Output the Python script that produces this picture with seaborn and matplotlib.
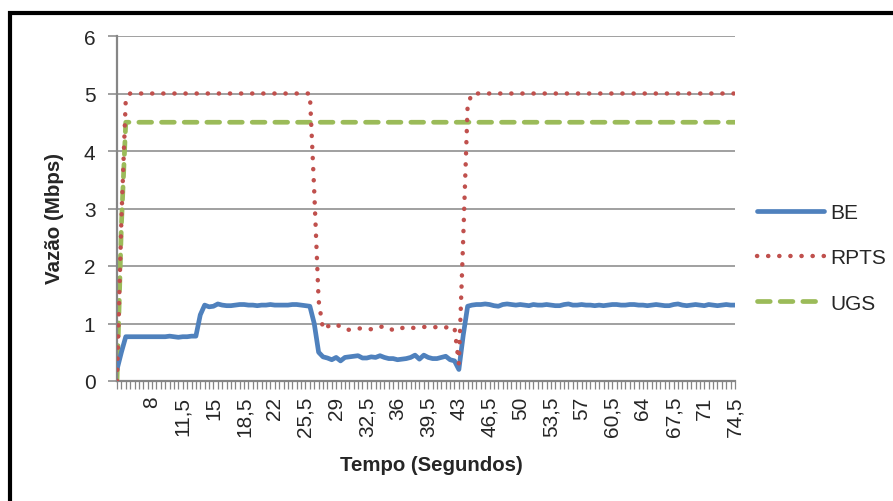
import numpy as np
import pandas as pd
import seaborn as sns
import matplotlib.pyplot as plt
from matplotlib.patches import Rectangle

# tempo em segundos (eixo de categorias, passo de 0,5 s)
tempo = np.arange(4.0, 75.0, 0.5)

be = [
    0.20, 0.50, 0.77, 0.77, 0.77, 0.77, 0.77, 0.77, 0.77, 0.77,
    0.77, 0.77, 0.78, 0.77, 0.76, 0.77, 0.77, 0.78, 0.78, 1.15,
    1.32, 1.29, 1.30, 1.34, 1.32, 1.31, 1.31, 1.32, 1.33, 1.33,
    1.32, 1.32, 1.31, 1.32, 1.32, 1.33, 1.32, 1.32, 1.32, 1.32,
    1.33, 1.33, 1.32, 1.31, 1.30, 1.00, 0.50, 0.42, 0.40, 0.37,
    0.41, 0.35, 0.41, 0.42, 0.43, 0.44, 0.40, 0.40, 0.42, 0.41,
    0.44, 0.41, 0.39, 0.39, 0.37, 0.38, 0.39, 0.41, 0.45, 0.38,
    0.45, 0.41, 0.39, 0.39, 0.41, 0.43, 0.37, 0.35, 0.20, 0.80,
    1.30, 1.32, 1.33, 1.33, 1.34, 1.33, 1.31, 1.30, 1.33, 1.34,
    1.33, 1.32, 1.33, 1.32, 1.31, 1.33, 1.32, 1.32, 1.33, 1.32,
    1.31, 1.31, 1.33, 1.34, 1.32, 1.32, 1.33, 1.32, 1.32, 1.31,
    1.32, 1.31, 1.32, 1.33, 1.33, 1.32, 1.32, 1.33, 1.33, 1.32,
    1.32, 1.31, 1.32, 1.33, 1.32, 1.31, 1.31, 1.33, 1.34, 1.32,
    1.31, 1.32, 1.33, 1.32, 1.31, 1.33, 1.32, 1.31, 1.32, 1.33,
    1.32, 1.32,
]

rpts = [
    0.00, 2.80, 4.90, 5.00, 5.00, 5.00, 5.00, 5.00, 5.00, 5.00,
    5.00, 5.00, 5.00, 5.00, 5.00, 5.00, 5.00, 5.00, 5.00, 5.00,
    5.00, 5.00, 5.00, 5.00, 5.00, 5.00, 5.00, 5.00, 5.00, 5.00,
    5.00, 5.00, 5.00, 5.00, 5.00, 5.00, 5.00, 5.00, 5.00, 5.00,
    5.00, 5.00, 5.00, 5.00, 5.00, 3.30, 1.40, 0.90, 0.95, 0.97,
    0.99, 0.94, 0.90, 0.89, 0.90, 0.91, 0.92, 0.91, 0.90, 0.91,
    0.94, 0.95, 0.93, 0.88, 0.90, 0.92, 0.94, 0.93, 0.92, 0.93,
    0.94, 0.94, 0.93, 0.94, 0.92, 0.93, 0.95, 0.93, 0.30, 2.50,
    4.80, 5.00, 5.00, 5.00, 5.00, 5.00, 5.00, 5.00, 5.00, 5.00,
    5.00, 5.00, 5.00, 5.00, 5.00, 5.00, 5.00, 5.00, 5.00, 5.00,
    5.00, 5.00, 5.00, 5.00, 5.00, 5.00, 5.00, 5.00, 5.00, 5.00,
    5.00, 5.00, 5.00, 5.00, 5.00, 5.00, 5.00, 5.00, 5.00, 5.00,
    5.00, 5.00, 5.00, 5.00, 5.00, 5.00, 5.00, 5.00, 5.00, 5.00,
    5.00, 5.00, 5.00, 5.00, 5.00, 5.00, 5.00, 5.00, 5.00, 5.00,
    5.00, 5.00,
]

ugs = [
    0.00, 2.70, 4.50, 4.50, 4.50, 4.50, 4.50, 4.50, 4.50, 4.50,
    4.50, 4.50, 4.50, 4.50, 4.50, 4.50, 4.50, 4.50, 4.50, 4.50,
    4.50, 4.50, 4.50, 4.50, 4.50, 4.50, 4.50, 4.50, 4.50, 4.50,
    4.50, 4.50, 4.50, 4.50, 4.50, 4.50, 4.50, 4.50, 4.50, 4.50,
    4.50, 4.50, 4.50, 4.50, 4.50, 4.50, 4.50, 4.50, 4.50, 4.50,
    4.50, 4.50, 4.50, 4.50, 4.50, 4.50, 4.50, 4.50, 4.50, 4.50,
    4.50, 4.50, 4.50, 4.50, 4.50, 4.50, 4.50, 4.50, 4.50, 4.50,
    4.50, 4.50, 4.50, 4.50, 4.50, 4.50, 4.50, 4.50, 4.50, 4.50,
    4.50, 4.50, 4.50, 4.50, 4.50, 4.50, 4.50, 4.50, 4.50, 4.50,
    4.50, 4.50, 4.50, 4.50, 4.50, 4.50, 4.50, 4.50, 4.50, 4.50,
    4.50, 4.50, 4.50, 4.50, 4.50, 4.50, 4.50, 4.50, 4.50, 4.50,
    4.50, 4.50, 4.50, 4.50, 4.50, 4.50, 4.50, 4.50, 4.50, 4.50,
    4.50, 4.50, 4.50, 4.50, 4.50, 4.50, 4.50, 4.50, 4.50, 4.50,
    4.50, 4.50, 4.50, 4.50, 4.50, 4.50, 4.50, 4.50, 4.50, 4.50,
    4.50, 4.50,
]

ticks_x = [8, 11.5, 15, 18.5, 22, 25.5, 29, 32.5, 36, 39.5,
           43, 46.5, 50, 53.5, 57, 60.5, 64, 67.5, 71, 74.5]
ticks_y = [0, 1, 2, 3, 4, 5, 6]

df = pd.DataFrame({'tempo': tempo, 'BE': be, 'RPTS': rpts, 'UGS': ugs})

sns.set_style('white')
plt.rcParams['font.family'] = ['Liberation Sans', 'DejaVu Sans']

GRAY = '#868686'
fig = plt.figure(figsize=(8.93, 5.02), dpi=100)
ax = fig.add_axes([117 / 893, 1 - 382 / 502, (735 - 117) / 893, (382 - 37) / 502])

sns.lineplot(data=df, x='tempo', y='BE', ax=ax, color='#4F81BD', lw=3.4,
             label='BE', solid_capstyle='round', solid_joinstyle='round', zorder=3)
sns.lineplot(data=df, x='tempo', y='RPTS', ax=ax, color='#C0504D', lw=3.2,
             label='RPTS', linestyle=(0, (0.05, 2.45)), dash_capstyle='round', zorder=4)
sns.lineplot(data=df, x='tempo', y='UGS', ax=ax, color='#9BBB59', lw=3.4,
             label='UGS', linestyle=(0, (2.7, 2.1)), dash_capstyle='round', zorder=2)

ax.set_xlim(tempo[0], tempo[-1])
ax.set_ylim(0, 6)
ax.set_yticks(ticks_y)
ax.set_yticklabels([str(v) for v in ticks_y], fontsize=15)
ax.set_xticks(ticks_x)
ax.set_xticklabels([f'{v:g}'.replace('.', ',') for v in ticks_x], rotation=90, fontsize=15)
ax.set_xticks(tempo, minor=True)
ax.grid(axis='y', color=GRAY, lw=1.1)
ax.grid(axis='x', visible=False)
ax.set_axisbelow(True)
for s in ['top', 'right']:
    ax.spines[s].set_visible(False)
for s in ['left', 'bottom']:
    ax.spines[s].set_color(GRAY)
    ax.spines[s].set_linewidth(1.6)
ax.tick_params(axis='y', length=6.5, width=1.1, color=GRAY, pad=9, left=True)
ax.tick_params(axis='x', which='both', length=5.5, width=0.9, color=GRAY, pad=5, bottom=True)
ax.set_xlabel('')
ax.set_ylabel('')

fig.text(55 / 893, 1 - 218 / 502, 'Vazão (Mbps)', rotation=90, fontsize=14.8,
         fontweight='bold', ha='center', va='center')
fig.text(431 / 893, 1 - 466 / 502, 'Tempo (Segundos)', fontsize=14.7,
         fontweight='bold', ha='center', va='center')

ax.legend(loc='center left', bbox_to_anchor=(757 / 893, 1 - 259 / 502),
          bbox_transform=fig.transFigure, frameon=False, fontsize=15,
          handlelength=3.2, handletextpad=0.3, labelspacing=1.25,
          borderpad=0, borderaxespad=0)

# moldura preta (apenas topo e esquerda visíveis)
fig.patches.append(Rectangle((10 / 893, -0.1), 1.2, 1 - 13.5 / 502 + 0.1,
                             transform=fig.transFigure, fill=False,
                             edgecolor='black', lw=3))

fig.savefig('out.png', dpi=100)
